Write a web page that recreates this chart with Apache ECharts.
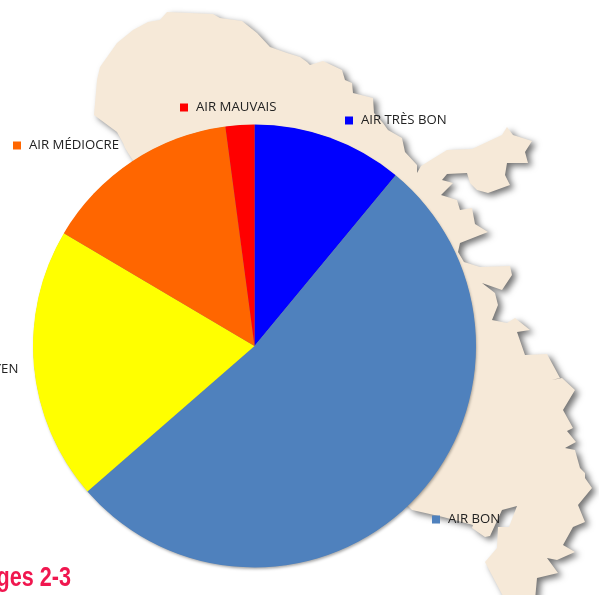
<!DOCTYPE html>
<html>
<head>
<meta charset="UTF-8">
<title>Qualité de l'air</title>
<style>
html, body { margin: 0; padding: 0; background: #fff; }
#main { width: 599px; height: 595px; }
</style>
</head>
<body>
<div id="main"></div>
<script src="https://cdn.jsdelivr.net/npm/echarts@6/dist/echarts.min.js"></script>
<script>
// values, in percent, clockwise from 12 o'clock
var categories = ['AIR TRÈS BON', 'AIR BON', 'AIR MOYEN', 'AIR MÉDIOCRE', 'AIR MAUVAIS'];
var values = [11, 52.6, 19.9, 14.4, 2.1];
var colors = ['#0000ff', '#4f81bd', '#ffff00', '#ff6600', '#ff0000'];
var caption = 'Pages 2-3';

var myChart = echarts.init(document.getElementById('main'), null, { renderer: 'canvas' });

// island outline behind the pie
var islandOutline = [
	[167,12],[213,14],[220,18],[242,21],[257,33],[270,47],[287,53],[300,57],[307,62],[310,65],
	[323,61],[342,70],[345,80],[352,83],[353,93],[373,98],[374,113],[383,123],[388,130],[402,138],
	[405,152],[417,165],[417,173],[421,166],[447,150],[472,149],[502,135],[507,127],[513,135],[532,141],
	[525,152],[528,163],[507,163],[505,175],[510,185],[488,193],[477,190],[470,183],[467,173],[447,174],
	[442,180],[453,183],[441,195],[457,200],[460,210],[472,208],[475,224],[488,232],[460,243],[458,252],
	[464,262],[480,267],[510,266],[512,275],[502,290],[482,283],[495,293],[498,305],[492,320],[507,323],
	[515,318],[530,330],[517,332],[525,355],[547,354],[560,378],[552,380],[562,378],[575,390],[563,410],
	[573,428],[567,431],[576,442],[565,448],[575,450],[580,468],[585,473],[585,478],[592,488],[578,505],
	[585,522],[573,527],[563,545],[575,552],[557,560],[547,558],[558,573],[537,578],[535,600],[505,600],
	[485,562],[497,548],[498,527],[509,527],[517,506],[502,510],[490,536],[485,537],[472,528],[473,525],
	[443,517],[412,510],[300,400],[132,159],[125,148],[123,143],[117,132],[94,115],[97,80],[100,67],
	[117,43],[133,30],[148,22],[160,20]
];

function legendAt(name, left, top) {
	return {
		data: [name],
		left: left,
		top: top,
		padding: 0,
		orient: 'horizontal',
		icon: 'rect',
		itemWidth: 8,
		itemHeight: 8,
		selectedMode: false,
		textStyle: { fontFamily: 'Open Sans', fontSize: 13.2, color: '#222', padding: [0, 0, 0, 3] }
	};
}

option = {
	animation: false,
	backgroundColor: '#ffffff',
	color: colors,
	legend: [
		legendAt('AIR TRÈS BON', 345, 114),
		legendAt('AIR BON', 432, 513),
		legendAt('AIR MOYEN', -68, 363),
		legendAt('AIR MÉDIOCRE', 13, 139),
		legendAt('AIR MAUVAIS', 180, 101)
	],
	graphic: [
		{
			type: 'polygon',
			z: -2,
			silent: true,
			shape: { points: islandOutline },
			style: {
				fill: '#f6e9d8',
				shadowBlur: 6,
				shadowOffsetX: 4,
				shadowOffsetY: 3,
				shadowColor: 'rgba(0,0,0,0.55)'
			}
		},
		{
			// soft shadow under the pie, so it does not fall across the slices
			type: 'circle',
			z: -1,
			silent: true,
			shape: { cx: 254.5, cy: 346, r: 221 },
			style: {
				fill: '#888888',
				shadowBlur: 3,
				shadowOffsetX: 1,
				shadowOffsetY: 2,
				shadowColor: 'rgba(0,0,0,0.35)'
			}
		},
		{
			type: 'text',
			x: 71,
			y: 565,
			scaleX: 0.8,
			silent: true,
			style: {
				text: caption,
				align: 'right',
				verticalAlign: 'top',
				fontFamily: 'Liberation Sans',
				fontWeight: 'bold',
				fontSize: 27,
				fill: '#f0174f'
			}
		}
	],
	series: [{
		type: 'pie',
		center: [254.5, 346],
		radius: [0, 221.5],
		startAngle: 90,
		clockwise: true,
		label: { show: false },
		labelLine: { show: false },
		silent: true,
		data: categories.map(function (name, i) {
			return { name: name, value: values[i] };
		})
	}]
};

myChart.setOption(option);
</script>
</body>
</html>
